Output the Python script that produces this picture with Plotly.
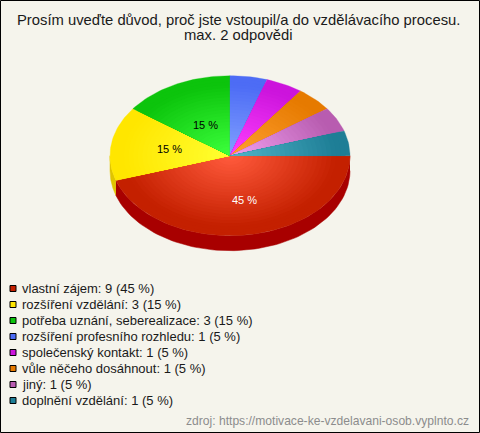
import numpy as np
import plotly.graph_objects as go

title_lines = ["Prosím uveďte důvod, proč jste vstoupil/a do vzdělávacího procesu.", "max. 2 odpovědi"]
categories = ["vlastní zájem", "rozšíření vzdělání", "potřeba uznání, seberealizace",
              "rozšíření profesního rozhledu", "společenský kontakt", "vůle něčeho dosáhnout",
              "jiný", "doplnění vzdělání"]
counts = [9, 3, 3, 1, 1, 1, 1, 1]
percents = [45, 15, 15, 5, 5, 5, 5, 5]
edge_colors = ["#C42000", "#FFE600", "#0CC40C", "#4D6CF5", "#CC14DC", "#E67A00", "#B85CB0", "#1E7E96"]
centre_colors = ["#FF5A3C", "#FFFF30", "#3CFF3C", "#80A0FF", "#FF40FF", "#FFA030", "#F0A0F0", "#50B4C8"]
wall_colors = ["#A80000", "#E0C400", "#0A9A0A", "#3A50C0", "#A010B0", "#B86000", "#904890", "#186478"]
source = "zdroj: https://motivace-ke-vzdelavani-osob.vyplnto.cz"

BG = "#F5F4EC"
W, H = 480, 433
CX, CY, RX, RY, DEPTH = 230, 155.7, 120, 80, 15
STEPS = 26


def rgb(h):
    return np.array([int(h[i:i + 2], 16) for i in (1, 3, 5)], float)


def mix(a, b, t):
    c = rgb(a) * (1 - t) + rgb(b) * t
    return "rgb(%d,%d,%d)" % tuple(c.round())


fig = go.Figure()
total = sum(counts)
ends = np.cumsum(counts) / total * 2 * np.pi
starts = np.concatenate([[0], ends[:-1]])

# side wall: the front half of the rim, sliced by the same angles
for a0, a1, col in zip(starts, ends, wall_colors):
    lo, hi = max(a0, 0), min(a1, np.pi)
    if hi <= lo:
        continue
    t = np.linspace(lo, hi, 80)
    x = CX + RX * np.cos(t)
    y = CY + RY * np.sin(t)
    fig.add_trace(go.Scatter(x=np.r_[x, x[::-1]], y=np.r_[y, y[::-1] + DEPTH], mode="lines",
                             fill="toself", fillcolor=col, line=dict(width=0.5, color=col),
                             hoverinfo="skip", showlegend=False))

# top face: each slice is a stack of shrinking wedges that gives its radial shading
for a0, a1, c_edge, c_mid in zip(starts, ends, edge_colors, centre_colors):
    t = np.linspace(a0, a1, max(8, int((a1 - a0) * 40)))
    for k in range(STEPS):
        f = 1 - k / STEPS
        shade = max(0.0, (k / (STEPS - 1) - 0.1) / 0.9)
        col = mix(c_edge, c_mid, shade)
        x = np.r_[CX, CX + f * RX * np.cos(t), CX]
        y = np.r_[CY, CY + f * RY * np.sin(t), CY]
        fig.add_trace(go.Scatter(x=x, y=y, mode="lines", fill="toself", fillcolor=col,
                                 line=dict(width=0.3 if k == 0 else 0, color=col),
                                 hoverinfo="skip", showlegend=False))

# legend rows
legend_y = [288.5 + 16 * i for i in range(len(categories))]
fig.add_trace(go.Scatter(x=[13] * len(categories), y=legend_y, mode="markers",
                         marker=dict(symbol="square", size=6, color=edge_colors,
                                     line=dict(color="#000000", width=1)),
                         hoverinfo="skip", showlegend=False))

ann = []
for c, n, p, y in zip(categories, counts, percents, legend_y):
    ann.append(dict(x=20, y=y, text=f"{c}: {n} ({p} %)", xanchor="left", yanchor="middle",
                    showarrow=False, font=dict(size=13, color="#1a1a1a")))
for i, (x, y, col) in enumerate([(244.5, 199.5, "#ffffff"), (169, 149, "#000000"), (205, 125, "#000000")]):
    ann.append(dict(x=x, y=y, text=f"{percents[i]} %", xanchor="center", yanchor="middle",
                    showarrow=False, font=dict(size=11, color=col)))
for line, y in zip(title_lines, [20, 35]):
    ann.append(dict(x=238.5, y=y, text=line, xanchor="center", yanchor="middle",
                    showarrow=False, font=dict(size=14.8, color="#1a1a1a")))
ann.append(dict(x=470.5, y=421, text=source, xanchor="right", yanchor="middle",
                showarrow=False, font=dict(size=12.1, color="#8c8c8c")))

fig.update_layout(
    width=W, height=H, margin=dict(l=0, r=0, t=0, b=0), autosize=False,
    paper_bgcolor=BG, plot_bgcolor=BG,
    font=dict(family="Liberation Sans"),
    xaxis=dict(range=[0, W], visible=False, fixedrange=True),
    yaxis=dict(range=[H, 0], visible=False, fixedrange=True),
    annotations=ann,
    shapes=[dict(type="rect", x0=0.5, y0=0.5, x1=W - 0.5, y1=H - 0.5,
                 line=dict(color="#000000", width=1), fillcolor="rgba(0,0,0,0)")],
)
fig.write_html("out.html", config={"displayModeBar": False},
               post_script="document.body.style.margin='0';document.documentElement.style.background='%s';" % BG)
